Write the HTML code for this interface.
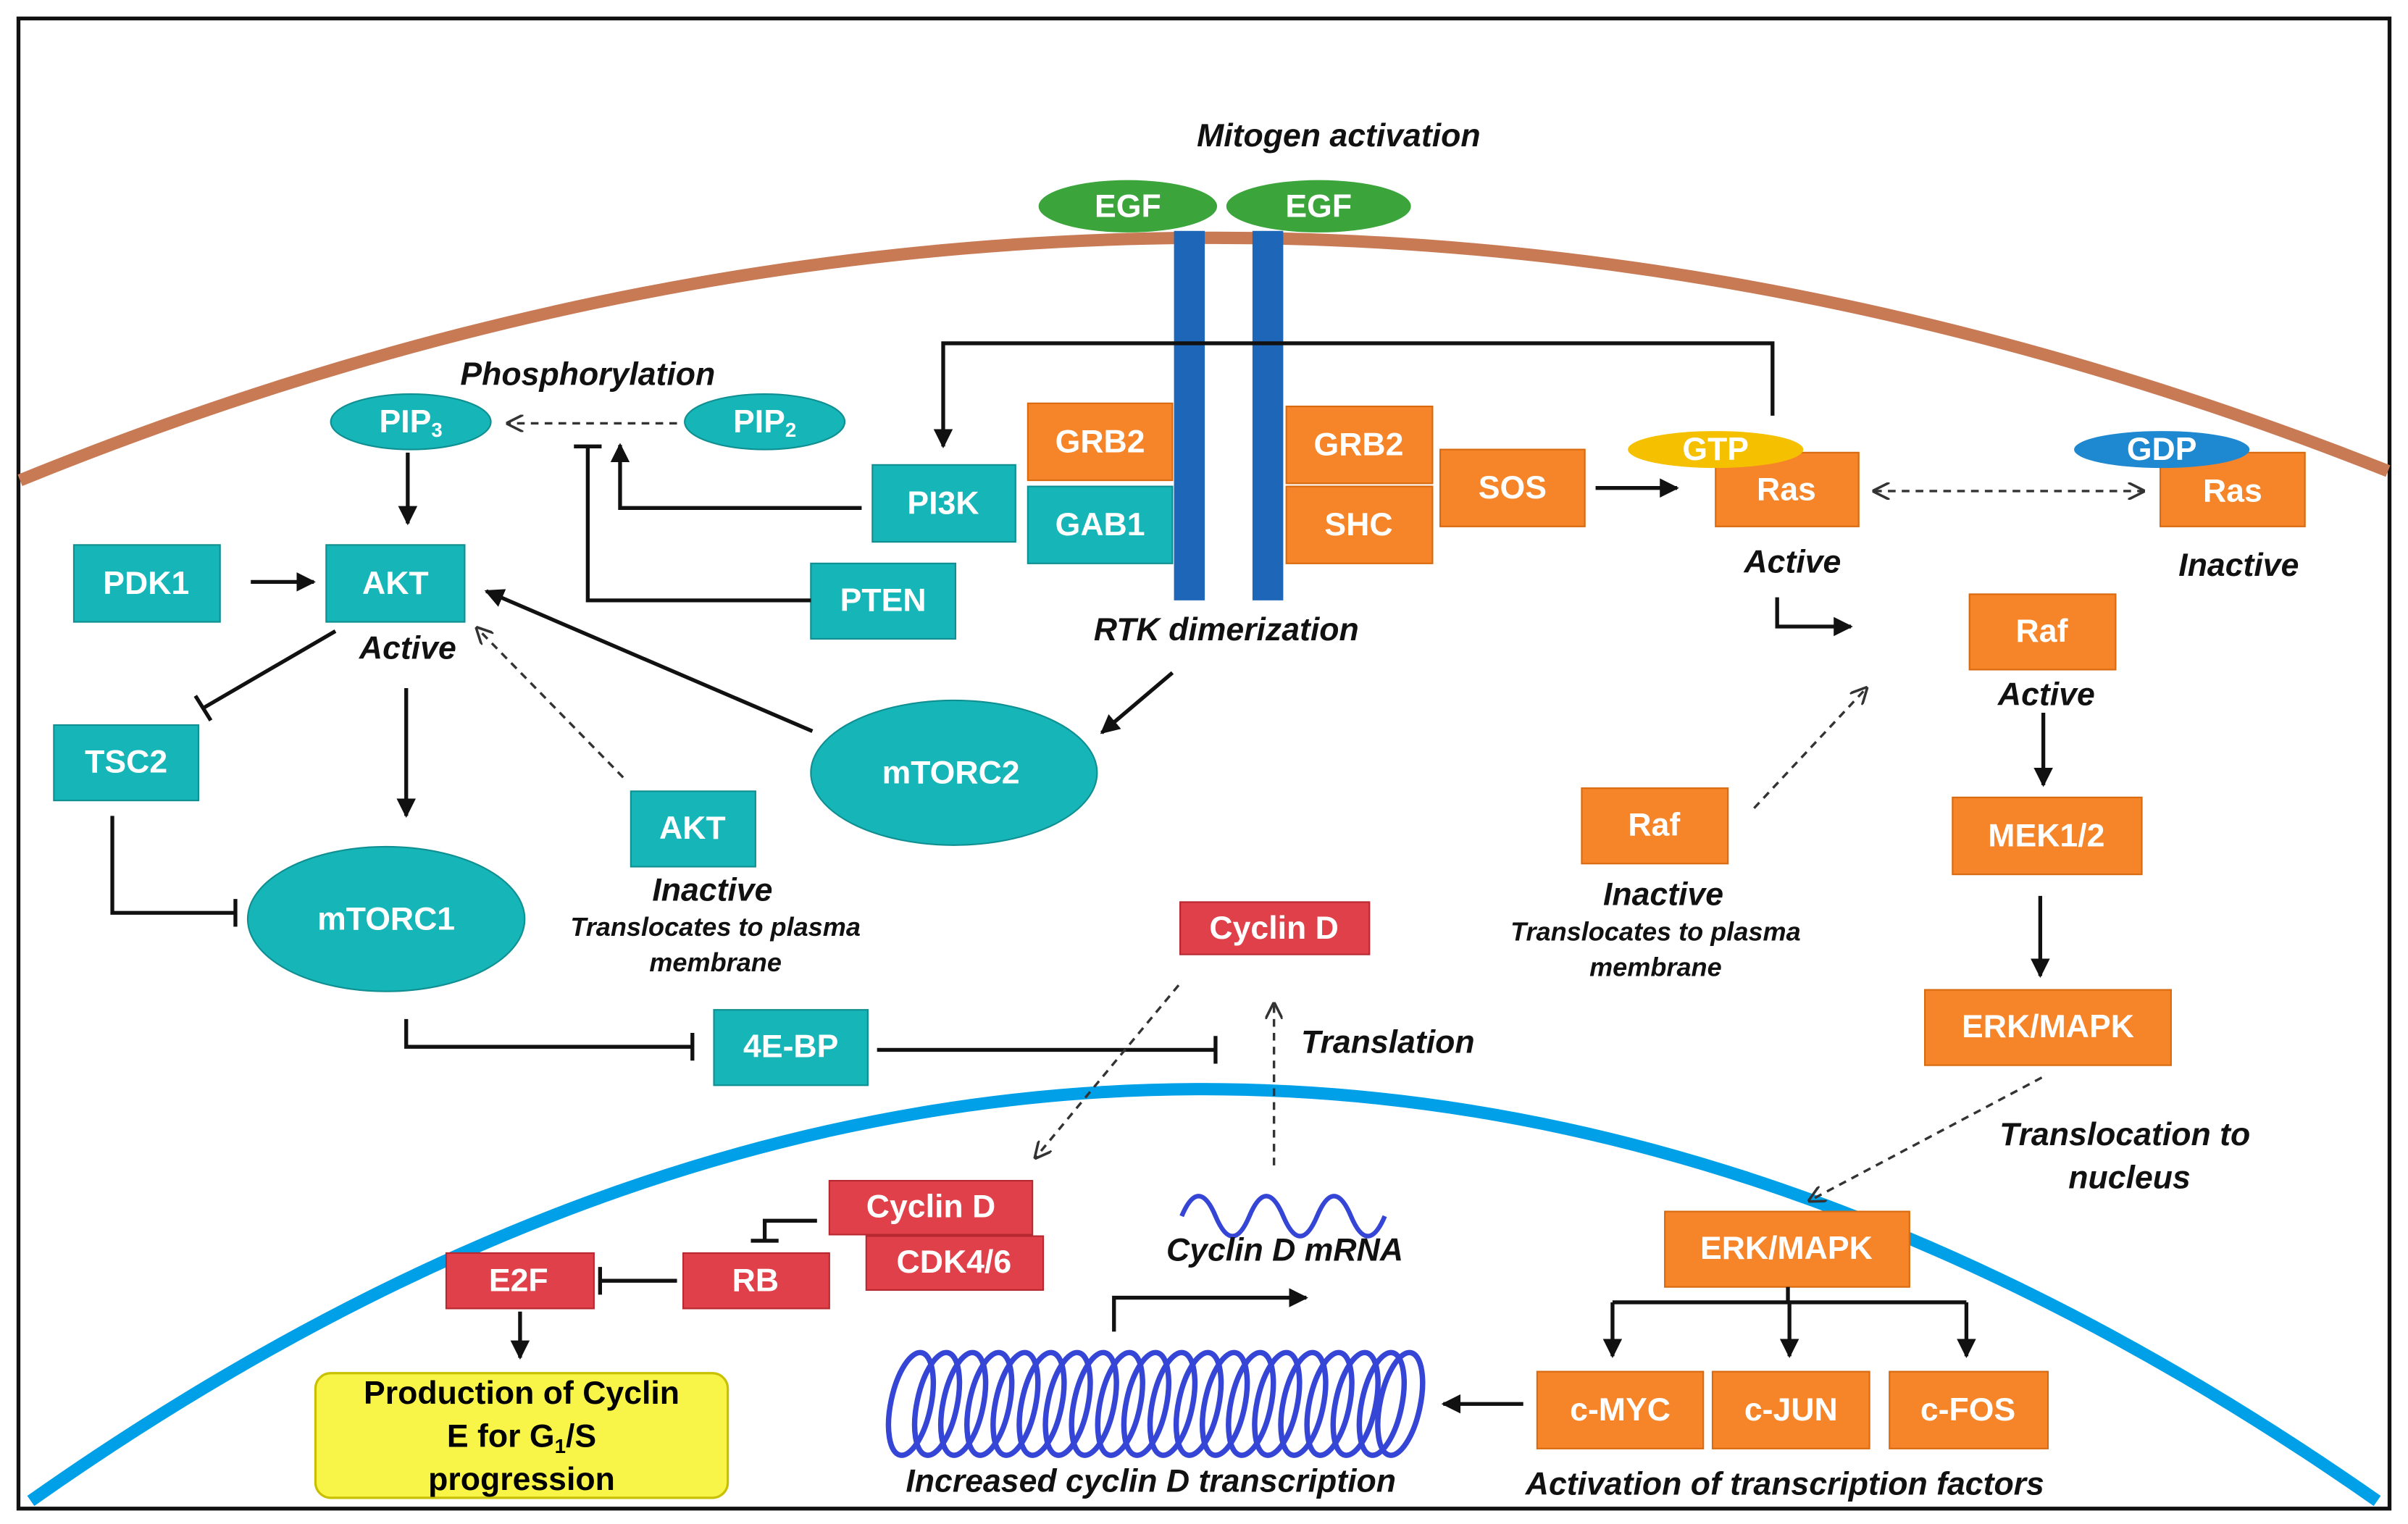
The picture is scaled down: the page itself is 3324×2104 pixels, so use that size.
<!DOCTYPE html>
<html><head><meta charset="utf-8"><style>
html,body{margin:0;padding:0;background:#fff}
svg{display:block}
text{font-family:"Liberation Sans",Arial,sans-serif;font-weight:bold}
.b{fill:#fff;font-size:21px;text-anchor:middle;dominant-baseline:central}
.i{fill:#111;font-size:21px;font-style:italic;text-anchor:middle}
.s{fill:#111;font-size:17px;font-style:italic;text-anchor:middle}
.t{fill:#16B5B8;stroke:#0f8f92;stroke-width:1}
.o{fill:#F68428;stroke:#d86a10;stroke-width:1}
.r{fill:#E0404A;stroke:#b82830;stroke-width:1}
.l{stroke:#111;stroke-width:2.5;fill:none}
.d{stroke:#333;stroke-width:1.6;fill:none;stroke-dasharray:5 4}
</style></head><body>
<svg width="3324" height="2104" viewBox="0 0 1565 990" preserveAspectRatio="none">
<defs>
<marker id="a" viewBox="0 0 10 10" refX="9" refY="5" markerWidth="5" markerHeight="5" orient="auto"><path d="M0,0L10,5L0,10z" fill="#111"/></marker>
<marker id="da" viewBox="0 0 10 10" refX="9" refY="5" markerWidth="7" markerHeight="7" orient="auto-start-reverse"><path d="M0,0L10,5L0,10" fill="none" stroke="#333" stroke-width="1.5"/></marker>
<ellipse id="e" cx="0" cy="0" rx="13" ry="34" transform="rotate(12)"/>
</defs>
<rect x="0" y="0" width="1565" height="990" fill="#fff"/>
<rect x="12" y="12" width="1541" height="968" fill="none" stroke="#111" stroke-width="2.5"/>
<path d="M13,312 Q780,0 1552,306" fill="none" stroke="#C87A55" stroke-width="8"/>
<path d="M20,975 Q780,440 1545,975" fill="none" stroke="#00A0E8" stroke-width="8"/>

<text class="i" x="870" y="95">Mitogen activation</text>
<rect x="763" y="150" width="20" height="240" fill="#1E66B8"/>
<rect x="814" y="150" width="20" height="240" fill="#1E66B8"/>
<ellipse cx="733" cy="134" rx="58" ry="17" fill="#3BA53B"/><text class="b" x="733" y="134">EGF</text>
<ellipse cx="857" cy="134" rx="60" ry="17" fill="#3BA53B"/><text class="b" x="857" y="134">EGF</text>

<text class="i" x="382" y="250">Phosphorylation</text>
<ellipse cx="267" cy="274" rx="52" ry="18" class="t"/><text class="b" x="267" y="274">PIP<tspan font-size="13" dy="5">3</tspan></text>
<ellipse cx="497" cy="274" rx="52" ry="18" class="t"/><text class="b" x="497" y="274">PIP<tspan font-size="13" dy="5">2</tspan></text>

<rect x="567" y="302" width="93" height="50" class="t"/><text class="b" x="613" y="327">PI3K</text>
<rect x="668" y="262" width="94" height="50" class="o"/><text class="b" x="715" y="287">GRB2</text>
<rect x="668" y="316" width="94" height="50" class="t"/><text class="b" x="715" y="341">GAB1</text>
<rect x="836" y="264" width="95" height="50" class="o"/><text class="b" x="883" y="289">GRB2</text>
<rect x="836" y="316" width="95" height="50" class="o"/><text class="b" x="883" y="341">SHC</text>
<rect x="936" y="292" width="94" height="50" class="o"/><text class="b" x="983" y="317">SOS</text>
<rect x="1115" y="294" width="93" height="48" class="o"/><text class="b" x="1161" y="318">Ras</text>
<ellipse cx="1115" cy="292" rx="57" ry="12" fill="#F5C000"/><text class="b" x="1115" y="292">GTP</text>
<rect x="1404" y="294" width="94" height="48" class="o"/><text class="b" x="1451" y="319">Ras</text>
<ellipse cx="1405" cy="292" rx="57" ry="12" fill="#1E88D0"/><text class="b" x="1405" y="292">GDP</text>
<text class="i" x="1165" y="372">Active</text>
<text class="i" x="1455" y="374">Inactive</text>

<rect x="48" y="354" width="95" height="50" class="t"/><text class="b" x="95" y="379">PDK1</text>
<rect x="212" y="354" width="90" height="50" class="t"/><text class="b" x="257" y="379">AKT</text>
<text class="i" x="265" y="428">Active</text>
<rect x="527" y="366" width="94" height="49" class="t"/><text class="b" x="574" y="390">PTEN</text>
<text class="i" x="797" y="416">RTK dimerization</text>
<rect x="35" y="471" width="94" height="49" class="t"/><text class="b" x="82" y="495">TSC2</text>
<ellipse cx="620" cy="502" rx="93" ry="47" class="t"/><text class="b" x="618" y="502">mTORC2</text>
<ellipse cx="251" cy="597" rx="90" ry="47" class="t"/><text class="b" x="251" y="597">mTORC1</text>
<rect x="410" y="514" width="81" height="49" class="t"/><text class="b" x="450" y="538">AKT</text>
<text class="i" x="463" y="585">Inactive</text>
<text class="s" x="465" y="608">Translocates  to plasma</text>
<text class="s" x="465" y="631">membrane</text>
<rect x="464" y="656" width="100" height="49" class="t"/><text class="b" x="514" y="680">4E-BP</text>
<rect x="767" y="586" width="123" height="34" class="r"/><text class="b" x="828" y="603">Cyclin D</text>
<text class="i" x="902" y="684">Translation</text>

<rect x="1280" y="386" width="95" height="49" class="o"/><text class="b" x="1327" y="410">Raf</text>
<text class="i" x="1330" y="458">Active</text>
<rect x="1269" y="518" width="123" height="50" class="o"/><text class="b" x="1330" y="543">MEK1/2</text>
<rect x="1251" y="643" width="160" height="49" class="o"/><text class="b" x="1331" y="667">ERK/MAPK</text>
<rect x="1028" y="512" width="95" height="49" class="o"/><text class="b" x="1075" y="536">Raf</text>
<text class="i" x="1081" y="588">Inactive</text>
<text class="s" x="1076" y="611">Translocates  to plasma</text>
<text class="s" x="1076" y="634">membrane</text>
<text class="i" x="1381" y="744">Translocation to</text>
<text class="i" x="1384" y="772">nucleus</text>
<rect x="1082" y="787" width="159" height="49" class="o"/><text class="b" x="1161" y="811">ERK/MAPK</text>
<rect x="999" y="891" width="108" height="50" class="o"/><text class="b" x="1053" y="916">c-MYC</text>
<rect x="1113" y="891" width="102" height="50" class="o"/><text class="b" x="1164" y="916">c-JUN</text>
<rect x="1228" y="891" width="103" height="50" class="o"/><text class="b" x="1279" y="916">c-FOS</text>
<text class="i" x="1160" y="971">Activation  of transcription  factors</text>

<g stroke="#3545D5" stroke-width="3.5" fill="none">
<use href="#e" x="592" y="912"/><use href="#e" x="609" y="912"/><use href="#e" x="626" y="912"/><use href="#e" x="643" y="912"/><use href="#e" x="660" y="912"/><use href="#e" x="677" y="912"/><use href="#e" x="694" y="912"/><use href="#e" x="711" y="912"/><use href="#e" x="728" y="912"/><use href="#e" x="745" y="912"/><use href="#e" x="762" y="912"/><use href="#e" x="779" y="912"/><use href="#e" x="796" y="912"/><use href="#e" x="813" y="912"/><use href="#e" x="830" y="912"/><use href="#e" x="847" y="912"/><use href="#e" x="864" y="912"/><use href="#e" x="881" y="912"/><use href="#e" x="898" y="912"/><use href="#e" x="910" y="912"/>
</g>
<text class="i" x="748" y="969">Increased cyclin  D transcription</text>
<path d="M768,790 q11,-26 22,0 q11,26 22,0 q11,-26 22,0 q11,26 22,0 q11,-26 22,0 q11,26 22,0" fill="none" stroke="#3545D5" stroke-width="3"/>
<text class="i" x="835" y="819">Cyclin D mRNA</text>

<rect x="539" y="767" width="132" height="35" class="r"/><text class="b" x="605" y="784">Cyclin D</text>
<rect x="563" y="803" width="115" height="35" class="r"/><text class="b" x="620" y="820">CDK4/6</text>
<rect x="444" y="814" width="95" height="36" class="r"/><text class="b" x="491" y="832">RB</text>
<rect x="290" y="814" width="96" height="36" class="r"/><text class="b" x="337" y="832">E2F</text>
<rect x="205" y="892" width="268" height="81" rx="10" fill="#F8F548" stroke="#C8C000" stroke-width="1.5"/>
<text x="339" y="912" style="font-size:21px;text-anchor:middle">Production of Cyclin</text>
<text x="339" y="940" style="font-size:21px;text-anchor:middle">E for G<tspan font-size="13" dy="4">1</tspan><tspan dy="-4">/S</tspan></text>
<text x="339" y="968" style="font-size:21px;text-anchor:middle">progression</text>

<path class="l" d="M1152,270 V223 H613 V290" marker-end="url(#a)"/>
<path class="l" d="M560,330 H403 V289" marker-end="url(#a)"/>
<path class="l" d="M527,390 H382 V290 M373,290 H391"/>
<path class="d" d="M440,275 H330" marker-end="url(#da)"/>
<path class="l" d="M265,294 V340" marker-end="url(#a)"/>
<path class="l" d="M163,378 H204" marker-end="url(#a)"/>
<path class="l" d="M528,475 L316,384" marker-end="url(#a)"/>
<path class="l" d="M762,437 L716,476" marker-end="url(#a)"/>
<path class="d" d="M405,505 L310,408" marker-end="url(#da)"/>
<path class="l" d="M218,410 L132,460 M127,452 L137,468"/>
<path class="l" d="M264,447 V530" marker-end="url(#a)"/>
<path class="l" d="M73,530 V593 H153 M153,584 V602"/>
<path class="l" d="M264,662 V680 H450 M450,671 V689"/>
<path class="l" d="M570,682 H790 M790,673 V691"/>
<path class="l" d="M1037,317 H1090" marker-end="url(#a)"/>
<path class="d" d="M1218,319 H1393" marker-start="url(#da)" marker-end="url(#da)"/>
<path class="l" d="M1155,388 V407 H1203" marker-end="url(#a)"/>
<path class="d" d="M1140,525 L1213,447" marker-end="url(#da)"/>
<path class="l" d="M1328,463 V510" marker-end="url(#a)"/>
<path class="l" d="M1326,582 V634" marker-end="url(#a)"/>
<path class="d" d="M1327,700 L1176,780" marker-end="url(#da)"/>
<path class="l" d="M1162,836 V846 M1048,846 H1278"/>
<path class="l" d="M1048,846 V881" marker-end="url(#a)"/>
<path class="l" d="M1163,846 V881" marker-end="url(#a)"/>
<path class="l" d="M1278,846 V881" marker-end="url(#a)"/>
<path class="l" d="M990,912 H938" marker-end="url(#a)"/>
<path class="l" d="M724,865 V843 H849" marker-end="url(#a)"/>
<path class="d" d="M828,757 V652" marker-end="url(#da)"/>
<path class="d" d="M766,640 L673,752" marker-end="url(#da)"/>
<path class="l" d="M531,793 H497 V806 M488,806 H506"/>
<path class="l" d="M440,832 H390 M390,823 V841"/>
<path class="l" d="M338,852 V882" marker-end="url(#a)"/>
</svg>
</body></html>
